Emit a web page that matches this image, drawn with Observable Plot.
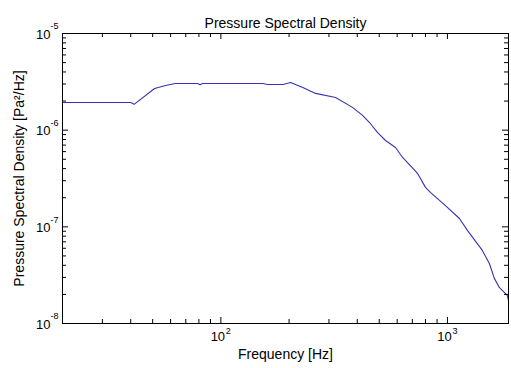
<!DOCTYPE html>
<html><head><meta charset="utf-8">
<script src="https://cdn.jsdelivr.net/npm/d3@7"></script>
<script src="https://cdn.jsdelivr.net/npm/@observablehq/plot@0.6"></script>
<style>body{margin:0;background:#fff} svg{display:block}</style>
</head><body><div id="chart"></div>
<script>
const freq = [20, 40, 41.4, 51, 57, 63, 79, 81, 83, 153, 161, 188, 203, 230, 262, 321, 381, 422, 453, 491, 533, 590, 634, 738, 800, 841, 980, 1130, 1225, 1426, 1531, 1611, 1694, 1837, 1860];
const psd = [1.93e-6, 1.93e-6, 1.85e-6, 2.70e-6, 2.90e-6, 3.04e-6, 3.04e-6, 2.95e-6, 3.04e-6, 3.04e-6, 2.97e-6, 2.97e-6, 3.11e-6, 2.76e-6, 2.40e-6, 2.18e-6, 1.72e-6, 1.42e-6, 1.20e-6, 9.47e-7, 7.82e-7, 6.62e-7, 5.22e-7, 3.57e-7, 2.56e-7, 2.27e-7, 1.66e-7, 1.22e-7, 9.18e-8, 5.70e-8, 4.18e-8, 2.93e-8, 2.36e-8, 1.95e-8, 1.73e-8];
const xMajor = [100, 1000];
const xExp = ["2", "3"];
const xMinor = [30, 40, 50, 60, 70, 80, 90, 200, 300, 400, 500, 600, 700, 800, 900];
const yMajor = [1e-5, 1e-6, 1e-7, 1e-8];
const yExp = ["-5", "-6", "-7", "-8"];
const yMinor = [2e-8,3e-8,4e-8,5e-8,6e-8,7e-8,8e-8,9e-8,2e-7,3e-7,4e-7,5e-7,6e-7,7e-7,8e-7,9e-7,2e-6,3e-6,4e-6,5e-6,6e-6,7e-6,8e-6,9e-6];
const title = "Pressure Spectral Density";
const xLabel = "Frequency [Hz]";
const yLabel = "Pressure Spectral Density [Pa²/Hz]";

const data = freq.map((f, i) => ({f, v: psd[i]}));
const font = "Liberation Sans, Arial, sans-serif";
const W = 511, H = 368, mL = 62, mT = 33, mR = 3, mB = 45;
const fw = W - mL - mR, fh = H - mT - mB;
const tk = 4, tM = 6;
const tickStyle = {stroke: "#000", strokeWidth: 1};

const chart = Plot.plot({
  width: W, height: H,
  marginLeft: mL, marginTop: mT, marginRight: mR, marginBottom: mB,
  style: {fontFamily: font, background: "#fff", color: "#000"},
  x: {type: "log", domain: [20, 1860], axis: null},
  y: {type: "log", domain: [1e-8, 1e-5], axis: null},
  marks: [
    Plot.line(data, {x: "f", y: "v", stroke: "#3434b4", strokeWidth: 1.1}),
    Plot.frame({stroke: "#000"}),
    // inward ticks on all four sides
    Plot.tickX(xMinor, {x: d => d, insetTop: fh - tk, ...tickStyle}),
    Plot.tickX(xMinor, {x: d => d, insetBottom: fh - tk, ...tickStyle}),
    Plot.tickX(xMajor, {x: d => d, insetTop: fh - tM, ...tickStyle}),
    Plot.tickX(xMajor, {x: d => d, insetBottom: fh - tM, ...tickStyle}),
    Plot.tickY(yMinor, {y: d => d, insetRight: fw - tk, ...tickStyle}),
    Plot.tickY(yMinor, {y: d => d, insetLeft: fw - tk, ...tickStyle}),
    Plot.tickY(yMajor, {y: d => d, insetRight: fw - tM, ...tickStyle}),
    Plot.tickY(yMajor, {y: d => d, insetLeft: fw - tM, ...tickStyle}),
    // x tick labels
    Plot.text(xMajor, {x: d => d, frameAnchor: "bottom", text: () => "10", dx: -3, dy: 17, fontSize: 13, fill: "#000"}),
    Plot.text(xMajor, {x: d => d, frameAnchor: "bottom", text: (d, i) => xExp[i], textAnchor: "start", dx: 5, dy: 10, fontSize: 9, fill: "#000"}),
    // y tick labels
    Plot.text(yMajor, {y: d => d, frameAnchor: "left", text: () => "10", textAnchor: "end", dx: -12, dy: 1, fontSize: 13, fill: "#000"}),
    Plot.text(yMajor, {y: d => d, frameAnchor: "left", text: (d, i) => yExp[i], textAnchor: "start", dx: -12, dy: -7, fontSize: 9, fill: "#000"}),
    // title and axis labels
    Plot.text([title], {frameAnchor: "top", text: d => d, dy: -15, fontSize: 14, fill: "#000"}),
    Plot.text([xLabel], {frameAnchor: "bottom", text: d => d, dy: 35, fontSize: 14, fill: "#000"}),
    Plot.text([yLabel], {frameAnchor: "left", text: d => d, textAnchor: "middle", dx: -43, rotate: -90, fontSize: 14, fill: "#000"})
  ]
});
document.getElementById("chart").appendChild(chart);
</script>
</body></html>
